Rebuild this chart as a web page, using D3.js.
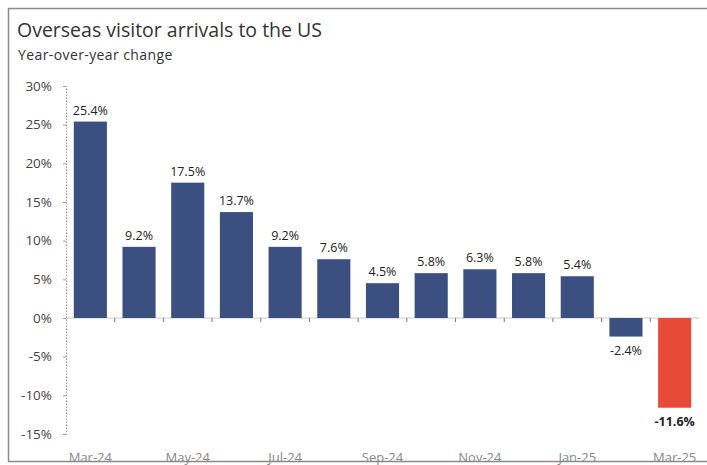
<!DOCTYPE html>
<html>
<head>
<meta charset="utf-8">
<script src="https://cdn.jsdelivr.net/npm/d3@7"></script>
<style>
  html, body { margin: 0; padding: 0; background: #fff; }
  svg { display: block; font-family: "Open Sans", "Noto Sans", sans-serif; }
</style>
</head>
<body>
<svg id="chart" width="707" height="465"></svg>
<script>
// Monthly year-over-year change in overseas arrivals (%)
const months = ["Mar-24","Apr-24","May-24","Jun-24","Jul-24","Aug-24","Sep-24","Oct-24","Nov-24","Dec-24","Jan-25","Feb-25","Mar-25"];
const changes = [25.4, 9.2, 17.5, 13.7, 9.2, 7.6, 4.5, 5.8, 6.3, 5.8, 5.4, -2.4, -11.6];
const yTicks = [30, 25, 20, 15, 10, 5, 0, -5, -10, -15];
const shownMonths = ["Mar-24","May-24","Jul-24","Sep-24","Nov-24","Jan-25","Mar-25"];

const data = months.map((m, i) => ({ month: m, value: changes[i] }));
const svg = d3.select("#chart");

// frame
svg.append("rect")
  .attr("x", 8.5).attr("y", 8.5).attr("width", 710).attr("height", 453)
  .attr("fill", "none").attr("stroke", "#8a8a8a").attr("stroke-width", 1.5);

svg.append("text")
  .attr("x", 17).attr("y", 37)
  .attr("font-size", 19.5).attr("fill", "#333")
  .text("Overseas visitor arrivals to the US");

svg.append("text")
  .attr("x", 18).attr("y", 60)
  .attr("font-size", 14).attr("letter-spacing", 0.4).attr("fill", "#333")
  .text("Year-over-year change");

const x = d3.scaleBand().domain(months).range([66, 699]).paddingInner(0.32).paddingOuter(0.16);
const y = d3.scaleLinear().domain([-15, 30]).range([434, 86]);

// y axis
const yAxis = svg.append("g").attr("transform", "translate(66,0)")
  .call(d3.axisLeft(y).tickValues(yTicks).tickSize(3).tickFormat(d => d + "%"));
yAxis.select(".domain").attr("stroke", "#9a9a9a").attr("stroke-dasharray", "1.5,1.5").attr("stroke-width", 1);
yAxis.selectAll(".tick line").attr("stroke", "#9a9a9a");
yAxis.selectAll(".tick text")
  .attr("x", -14).attr("font-size", 13.5).attr("fill", "#444")
  .attr("font-family", "\"Open Sans\", \"Noto Sans\", sans-serif");

// zero line
svg.append("line")
  .attr("x1", 66).attr("x2", 699)
  .attr("y1", y(0)).attr("y2", y(0))
  .attr("stroke", "#c8c8c8").attr("stroke-width", 1);

// small ticks between categories on the zero line
svg.append("g").selectAll("line")
  .data(months.slice(1))
  .join("line")
  .attr("x1", d => x(d) - x.step() * x.paddingInner() / 2)
  .attr("x2", d => x(d) - x.step() * x.paddingInner() / 2)
  .attr("y1", y(0)).attr("y2", y(0) + 4)
  .attr("stroke", "#777").attr("stroke-width", 1);

// bars
svg.append("g").selectAll("rect")
  .data(data)
  .join("rect")
  .attr("x", d => x(d.month))
  .attr("width", x.bandwidth())
  .attr("y", d => y(Math.max(0, d.value)))
  .attr("height", d => Math.abs(y(d.value) - y(0)))
  .attr("fill", (d, i) => i === data.length - 1 ? "#e84a3a" : "#3b5080");

// value labels
svg.append("g").selectAll("text")
  .data(data)
  .join("text")
  .attr("x", d => x(d.month) + x.bandwidth() / 2)
  .attr("y", d => d.value >= 0 ? y(d.value) - 7 : y(d.value) + 18)
  .attr("text-anchor", "middle")
  .attr("font-size", 12.5)
  .attr("font-weight", (d, i) => i === data.length - 1 ? "bold" : "normal")
  .attr("fill", "#222")
  .text(d => d.value.toFixed(1) + "%");

// x axis labels
svg.append("g").selectAll("text")
  .data(shownMonths)
  .join("text")
  .attr("x", d => x(d) + x.bandwidth() / 2)
  .attr("y", 462)
  .attr("text-anchor", "middle")
  .attr("font-size", 13)
  .attr("fill", "#888")
  .text(d => d);
</script>
</body>
</html>
